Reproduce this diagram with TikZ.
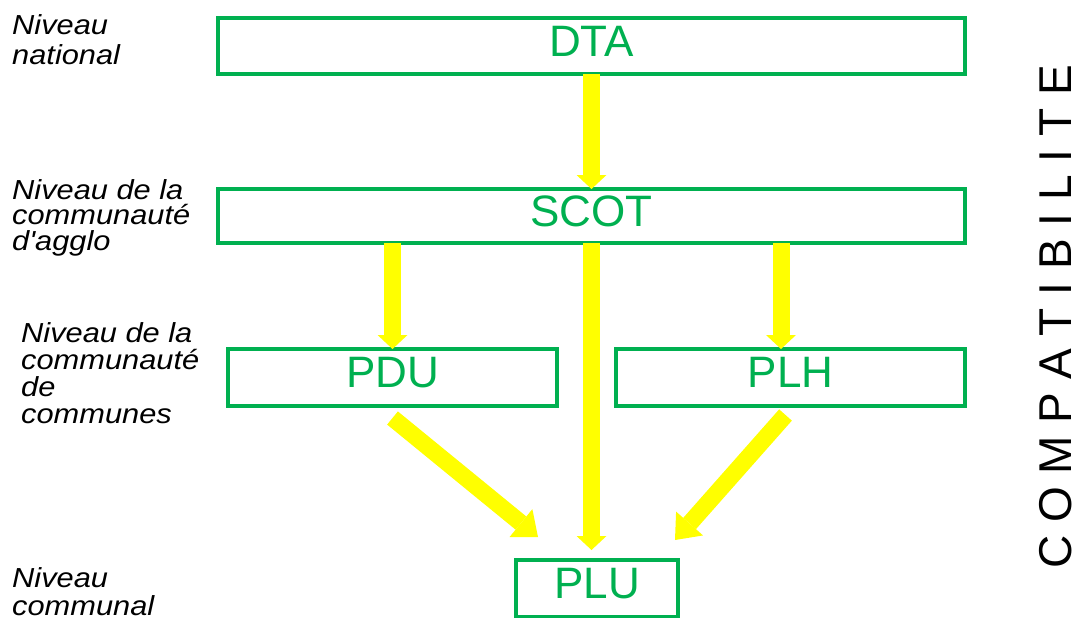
\documentclass[tikz,border=0pt]{standalone}
\usepackage{fontspec}
\setmainfont{Liberation Sans}
\newfontfamily\levelfont[FakeStretch=1.12]{Liberation Sans}
\usetikzlibrary{positioning, arrows.meta}

\definecolor{plangreen}{RGB}{0,176,80}
\definecolor{arrowyellow}{RGB}{255,255,0}

\tikzset{
    planbox/.style={draw=plangreen, line width=3.5pt, text=plangreen,
        font=\fontsize{44}{44}\selectfont, minimum height=56pt,
        inner sep=0pt, outer sep=0pt, text height=31.5pt, text depth=11pt},
    levellabel/.style={anchor=north west, align=left, inner sep=0pt,
        font=\levelfont\itshape\fontsize{27.5}{25.5}\selectfont},
    bigarrow/.style={draw=arrowyellow, line width=17pt,
        -{Triangle[width=30pt,length=14pt,line width=0pt]}},
    slantarrow/.style={draw=arrowyellow, line width=17pt,
        -{Triangle[width=36pt,length=22pt,line width=0pt]}}
}

\begin{document}
\begin{tikzpicture}[x=1pt,y=-1pt,node distance=2cm,on grid]
    \useasboundingbox (0,0) rectangle (1079,618);
    % plans
    \node[planbox, minimum width=747pt] (DTA) at (591.5,46) {DTA};
    \node[planbox, minimum width=747pt, minimum height=54pt, below=170pt of DTA] (SCOT) {SCOT};
    \node[planbox, minimum width=329pt, minimum height=57pt, below left=161.5pt and 199pt of SCOT] (PDU) {PDU};
    \node[planbox, minimum width=349pt, minimum height=57pt, below right=161.5pt and 199pt of SCOT] (PLH) {PLH};
    \node[planbox, minimum width=162pt, minimum height=57pt, below right=372.5pt and 5.5pt of SCOT] (PLU) {PLU};
    % niveaux
    \node[levellabel, font=\levelfont\itshape\fontsize{27.5}{30}\selectfont] (n_nat) at (12,14) {Niveau\\national};
    \node[levellabel] (n_agglo) at (12,179) {Niveau de la\\communauté\\d'agglo};
    \node[levellabel, font=\levelfont\itshape\fontsize{27.5}{27}\selectfont] (n_cc) at (21,322) {Niveau de la\\communauté\\de\\communes};
    \node[levellabel, font=\levelfont\itshape\fontsize{27.5}{28}\selectfont] (n_com) at (12,567) {Niveau\\communal};
    \node[rotate=90, inner sep=0pt, font=\fontsize{46}{46}\selectfont] (compat) at (1055.5,317) {C O M P A T I B I L I T E};
    % fleches
    \coordinate (plh-in) at ([xshift=-9.5pt]PLH.north);
    \coordinate (pdu-out) at ([yshift=-12pt]PDU.south);
    \coordinate (plh-out) at ([xshift=-5pt,yshift=-9pt]PLH.south);
    \coordinate (plu-in-l) at ([xshift=22pt,yshift=23pt]PLU.north west);
    \coordinate (plu-in-r) at ([xshift=-3pt,yshift=20pt]PLU.north east);
    \draw[bigarrow] (DTA) -- (SCOT);
    \draw[bigarrow] (SCOT.south -| PDU.north) -- (PDU.north);
    \draw[bigarrow] (SCOT.south -| plh-in) -- (plh-in);
    \draw[bigarrow, shorten >=10pt] (SCOT.south) -- (SCOT.south |- PLU.north);
    \draw[slantarrow] (pdu-out) -- (plu-in-l);
    \draw[slantarrow] (plh-out) -- (plu-in-r);
\end{tikzpicture}
\end{document}
